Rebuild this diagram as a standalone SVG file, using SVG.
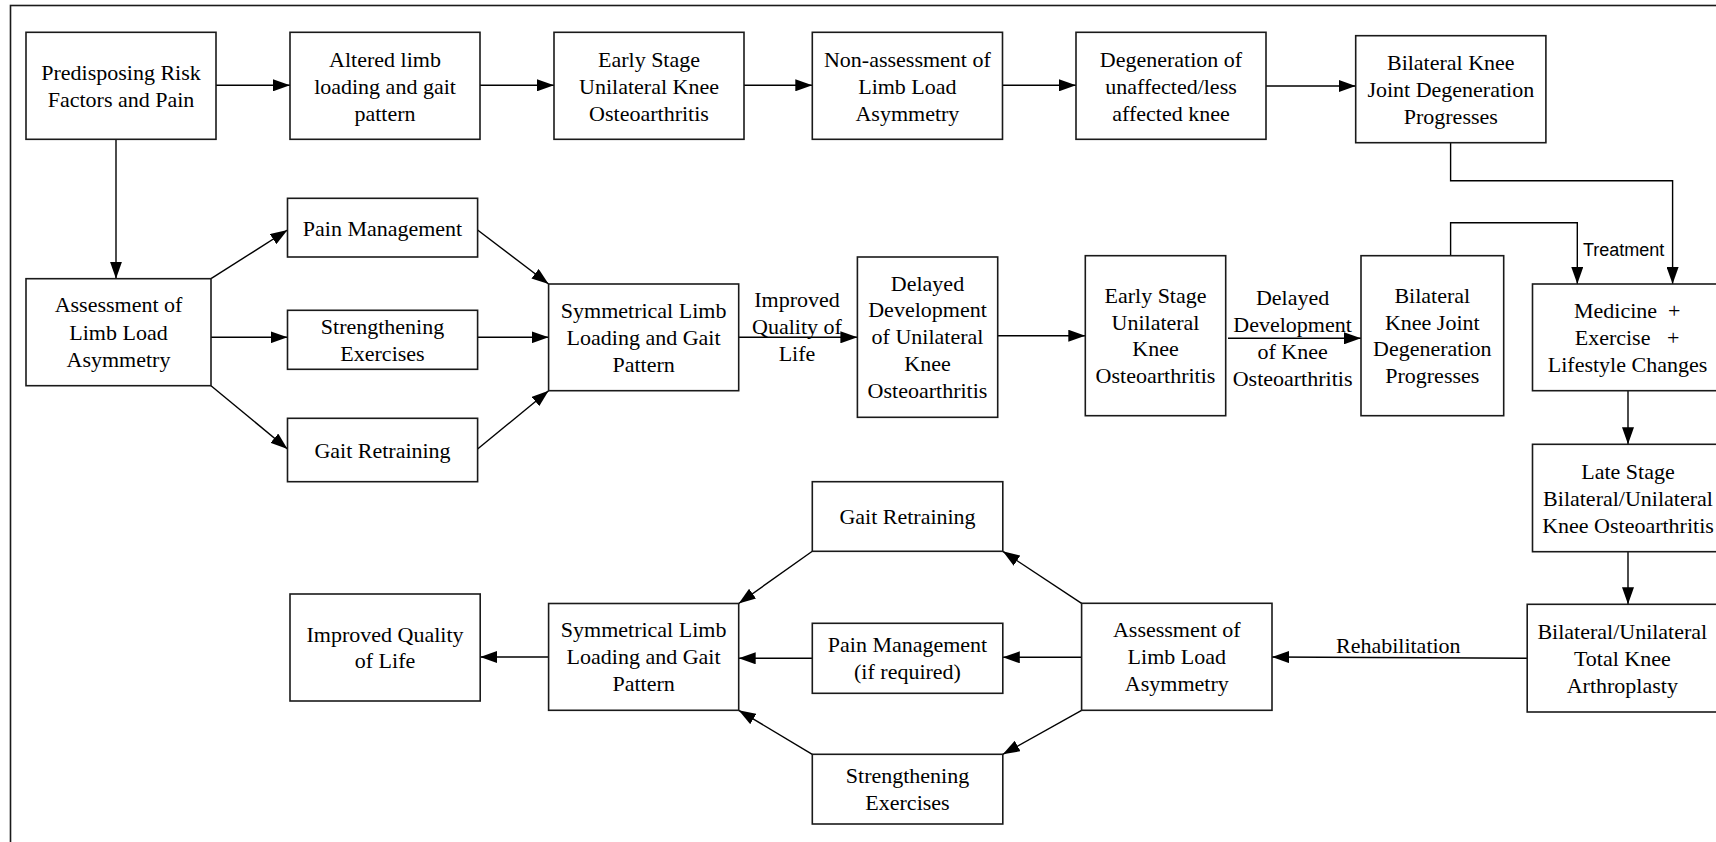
<svg xmlns="http://www.w3.org/2000/svg" width="1716" height="842" viewBox="0 0 1716 842">
<style>
.box{fill:#fff;stroke:#1a1a1a;stroke-width:1.6}
.t{font-family:"Liberation Serif","Times New Roman",serif;font-size:22px;fill:#000;text-anchor:middle}
.ts{font-family:"Liberation Sans",Arial,sans-serif;font-size:18px;fill:#000}
.c{fill:none;stroke:#000;stroke-width:1.4}
</style>
<defs>
<marker id="ah" markerUnits="userSpaceOnUse" markerWidth="18" markerHeight="12" refX="17" refY="6" orient="auto">
<path d="M0,0 L17,6 L0,12 z" fill="#000"/>
</marker>
</defs>
<rect x="0" y="0" width="1716" height="842" fill="#fff"/>
<rect x="10.5" y="5.5" width="1730" height="860" fill="none" stroke="#1a1a1a" stroke-width="1.6"/>

<g id="connectors">
<line class="c" x1="216" y1="85.3" x2="290" y2="85.3" marker-end="url(#ah)"/>
<line class="c" x1="480" y1="85.3" x2="554" y2="85.3" marker-end="url(#ah)"/>
<line class="c" x1="744" y1="85.3" x2="812.3" y2="85.3" marker-end="url(#ah)"/>
<line class="c" x1="1002.5" y1="85.3" x2="1076" y2="85.3" marker-end="url(#ah)"/>
<line class="c" x1="1266" y1="86" x2="1355.7" y2="86" marker-end="url(#ah)"/>
<polyline class="c" points="1450.6,142.7 1450.6,180.7 1672.6,180.7 1672.6,284" marker-end="url(#ah)"/>
<polyline class="c" points="1450.6,255.7 1450.6,222.7 1577.3,222.7 1577.3,284" marker-end="url(#ah)"/>
<line class="c" x1="116" y1="139.3" x2="116" y2="278.7" marker-end="url(#ah)"/>
<line class="c" x1="211" y1="278.7" x2="287.5" y2="230" marker-end="url(#ah)"/>
<line class="c" x1="211" y1="337.3" x2="287.5" y2="337.3" marker-end="url(#ah)"/>
<line class="c" x1="211" y1="385.7" x2="287.5" y2="449" marker-end="url(#ah)"/>
<line class="c" x1="477.6" y1="230" x2="548.6" y2="284" marker-end="url(#ah)"/>
<line class="c" x1="477.6" y1="337.3" x2="548.6" y2="337.3" marker-end="url(#ah)"/>
<line class="c" x1="477.6" y1="449" x2="548.6" y2="390.7" marker-end="url(#ah)"/>
<line class="c" x1="738.7" y1="337.3" x2="857.4" y2="337.3" marker-end="url(#ah)"/>
<line class="c" x1="997.7" y1="335.7" x2="1085.3" y2="335.7" marker-end="url(#ah)"/>
<line class="c" x1="1228" y1="338.3" x2="1361" y2="338.3" marker-end="url(#ah)"/>
<line class="c" x1="1628" y1="390.7" x2="1628" y2="444.3" marker-end="url(#ah)"/>
<line class="c" x1="1628" y1="551.7" x2="1628" y2="604.3" marker-end="url(#ah)"/>
<line class="c" x1="1527" y1="658.3" x2="1272" y2="657" marker-end="url(#ah)"/>
<line class="c" x1="1081.6" y1="603.3" x2="1002.8" y2="551.3" marker-end="url(#ah)"/>
<line class="c" x1="1081.6" y1="657.3" x2="1002.8" y2="657.3" marker-end="url(#ah)"/>
<line class="c" x1="1081.6" y1="710.3" x2="1002.8" y2="754.3" marker-end="url(#ah)"/>
<line class="c" x1="812.3" y1="551.3" x2="738.7" y2="603.5" marker-end="url(#ah)"/>
<line class="c" x1="812.3" y1="658.3" x2="738.7" y2="658.3" marker-end="url(#ah)"/>
<line class="c" x1="812.3" y1="754.3" x2="738.7" y2="710.3" marker-end="url(#ah)"/>
<line class="c" x1="548.6" y1="657" x2="480.2" y2="657" marker-end="url(#ah)"/>
<text class="t" x="797" y="306.5">Improved</text>
<text class="t" x="797" y="333.5">Quality of</text>
<text class="t" x="797" y="360.5">Life</text>
<text class="t" x="1292.6" y="304.5">Delayed</text>
<text class="t" x="1292.6" y="331.5">Development</text>
<text class="t" x="1292.6" y="358.5">of Knee</text>
<text class="t" x="1292.6" y="385.5">Osteoarthritis</text>
<text class="ts" x="1583" y="256">Treatment</text>
<text class="t" x="1398.3" y="652.5">Rehabilitation</text>
</g>

<g id="n1"><rect class="box" x="26" y="32.3" width="190" height="107"/>
<text class="t" x="121" y="79.5">Predisposing Risk</text><text class="t" x="121" y="106.5">Factors and Pain</text></g>
<g id="n2"><rect class="box" x="290" y="32.3" width="190" height="107"/>
<text class="t" x="385" y="66.5">Altered limb</text><text class="t" x="385" y="93.5">loading and gait</text><text class="t" x="385" y="120.5">pattern</text></g>
<g id="n3"><rect class="box" x="554" y="32.3" width="190" height="107"/>
<text class="t" x="649" y="66.5">Early Stage</text><text class="t" x="649" y="93.5">Unilateral Knee</text><text class="t" x="649" y="120.5">Osteoarthritis</text></g>
<g id="n4"><rect class="box" x="812.3" y="32.3" width="190.2" height="107"/>
<text class="t" x="907.4" y="66.5">Non-assessment of</text><text class="t" x="907.4" y="93.5">Limb Load</text><text class="t" x="907.4" y="120.5">Asymmetry</text></g>
<g id="n5"><rect class="box" x="1076" y="32.3" width="190" height="107"/>
<text class="t" x="1171" y="66.5">Degeneration of</text><text class="t" x="1171" y="93.5">unaffected/less</text><text class="t" x="1171" y="120.5">affected knee</text></g>
<g id="n6"><rect class="box" x="1355.7" y="35.7" width="190.2" height="107"/>
<text class="t" x="1450.8" y="69.5">Bilateral Knee</text><text class="t" x="1450.8" y="96.5">Joint Degeneration</text><text class="t" x="1450.8" y="123.5">Progresses</text></g>

<g id="n7"><rect class="box" x="26" y="278.7" width="185" height="107"/>
<text class="t" x="118.5" y="312.3">Assessment of</text><text class="t" x="118.5" y="339.5">Limb Load</text><text class="t" x="118.5" y="366.7">Asymmetry</text></g>
<g id="n8"><rect class="box" x="287.5" y="198.3" width="190.1" height="58.7"/>
<text class="t" x="382.5" y="235.5">Pain Management</text></g>
<g id="n9"><rect class="box" x="287.5" y="310.3" width="190.1" height="59"/>
<text class="t" x="382.5" y="334">Strengthening</text><text class="t" x="382.5" y="361">Exercises</text></g>
<g id="n10"><rect class="box" x="287.5" y="418.3" width="190.1" height="63.4"/>
<text class="t" x="382.5" y="457.5">Gait Retraining</text></g>
<g id="n11"><rect class="box" x="548.6" y="284" width="190.1" height="106.7"/>
<text class="t" x="643.6" y="317.8">Symmetrical Limb</text><text class="t" x="643.6" y="344.8">Loading and Gait</text><text class="t" x="643.6" y="371.8">Pattern</text></g>
<g id="n12"><rect class="box" x="857.4" y="257" width="140.3" height="160.3"/>
<text class="t" x="927.5" y="290.5">Delayed</text><text class="t" x="927.5" y="317.3">Development</text><text class="t" x="927.5" y="344.1">of Unilateral</text><text class="t" x="927.5" y="370.9">Knee</text><text class="t" x="927.5" y="397.7">Osteoarthritis</text></g>
<g id="n13"><rect class="box" x="1085.3" y="255.7" width="140.4" height="160"/>
<text class="t" x="1155.5" y="302.6">Early Stage</text><text class="t" x="1155.5" y="329.5">Unilateral</text><text class="t" x="1155.5" y="356.4">Knee</text><text class="t" x="1155.5" y="383.3">Osteoarthritis</text></g>
<g id="n14"><rect class="box" x="1361" y="255.7" width="142.7" height="160"/>
<text class="t" x="1432.3" y="302.6">Bilateral</text><text class="t" x="1432.3" y="329.5">Knee Joint</text><text class="t" x="1432.3" y="356.4">Degeneration</text><text class="t" x="1432.3" y="383.3">Progresses</text></g>
<g id="n15"><rect class="box" x="1532.5" y="284" width="190" height="106.7"/>
<text class="t" x="1574" y="317.8" xml:space="preserve" style="text-anchor:start;white-space:pre">Medicine  +</text><text class="t" x="1574.7" y="344.8" xml:space="preserve" style="text-anchor:start;white-space:pre">Exercise   +</text><text class="t" x="1627.5" y="371.8">Lifestyle Changes</text></g>
<g id="n16"><rect class="box" x="1532.5" y="444.3" width="190" height="107.4"/>
<text class="t" x="1628" y="479">Late Stage</text><text class="t" x="1628" y="505.8">Bilateral/Unilateral</text><text class="t" x="1628" y="532.5">Knee Osteoarthritis</text></g>
<g id="n17"><rect class="box" x="1527.2" y="604.3" width="190" height="107.7"/>
<text class="t" x="1622.3" y="638.7">Bilateral/Unilateral</text><text class="t" x="1622.3" y="665.7">Total Knee</text><text class="t" x="1622.3" y="692.7">Arthroplasty</text></g>

<g id="n18"><rect class="box" x="1081.6" y="603.3" width="190.4" height="107"/>
<text class="t" x="1176.8" y="637.3">Assessment of</text><text class="t" x="1176.8" y="664.3">Limb Load</text><text class="t" x="1176.8" y="691.3">Asymmetry</text></g>
<g id="n19"><rect class="box" x="812.3" y="481.7" width="190.5" height="69.6"/>
<text class="t" x="907.5" y="524">Gait Retraining</text></g>
<g id="n20"><rect class="box" x="812.3" y="623.3" width="190.5" height="70"/>
<text class="t" x="907.5" y="652.3">Pain Management</text><text class="t" x="907.5" y="679.3">(if required)</text></g>
<g id="n21"><rect class="box" x="812.3" y="754.3" width="190.5" height="69.7"/>
<text class="t" x="907.5" y="783.2">Strengthening</text><text class="t" x="907.5" y="810.2">Exercises</text></g>
<g id="n22"><rect class="box" x="548.6" y="603.5" width="190.1" height="106.8"/>
<text class="t" x="643.6" y="637.4">Symmetrical Limb</text><text class="t" x="643.6" y="664.4">Loading and Gait</text><text class="t" x="643.6" y="691.4">Pattern</text></g>
<g id="n23"><rect class="box" x="290" y="594" width="190.2" height="107"/>
<text class="t" x="385" y="641.5">Improved Quality</text><text class="t" x="385" y="668">of Life</text></g>
</svg>
